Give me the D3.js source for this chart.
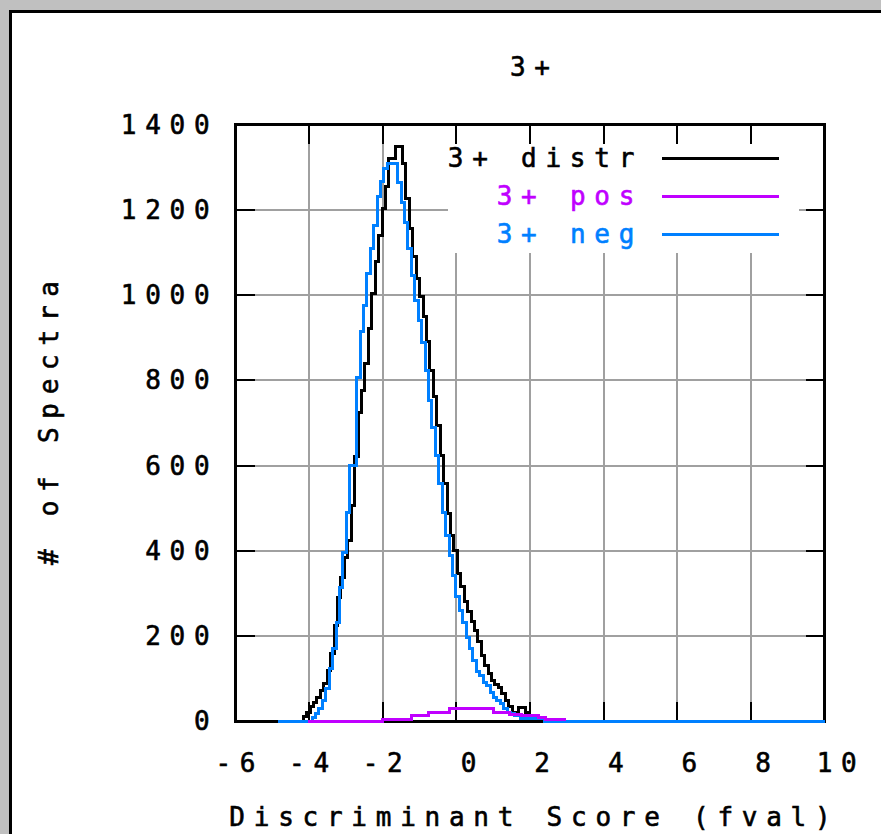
<!DOCTYPE html>
<html>
<head>
<meta charset="utf-8">
<script src="https://cdn.jsdelivr.net/npm/d3@7"></script>
<style>
html, body { margin: 0; padding: 0; background: #c0c0c0; overflow: hidden; }
svg { display: block; }
text { font-family: "DejaVu Sans Mono", monospace; font-size: 26px; white-space: pre; stroke-width: 0.6px; }
</style>
</head>
<body>
<svg id="chart" width="881" height="834"></svg>
<script>
// Histogram of discriminant scores, charge 3+
var binWidth = 0.093;
var distrStart = -4.81;
var negStart = -4.85;

var distrCounts = [0, 0, 0, 0, 0, 0, 0, 12, 22, 36, 45, 57, 73, 90, 120, 160, 225, 290, 338, 385,
    425, 507, 622, 725, 777, 840, 921, 1004, 1079, 1140, 1204, 1255, 1320, 1320, 1348, 1348,
    1309, 1227, 1157, 1090, 1040, 996, 950, 891, 824, 762, 695, 625, 558, 488, 437, 400, 347,
    316, 281, 257, 234, 214, 187, 155, 132, 113, 97, 87, 80, 66, 50, 34, 22, 22, 32, 32, 22, 0];

var negCounts = [0, 0, 0, 0, 0, 0, 0, 0, 0, 0, 8, 19, 31, 50, 78, 125, 172, 233, 315, 397,
    491, 601, 601, 807, 914, 975, 1052, 1110, 1164, 1231, 1267, 1298, 1310, 1310, 1310, 1265,
    1218, 1171, 1110, 1047, 988, 941, 890, 824, 754, 690, 625, 558, 491, 437, 390, 343, 292,
    261, 231, 198, 172, 144, 116, 108, 92, 85, 68, 57, 50, 43, 31, 22, 19, 15, 15,
    7, 7, 7, 7, 7, 7, 7, 0];

// the positive set is coarser, read as explicit step edges
var posEdges = [-4.03, -2.0, -1.23, -0.77, -0.2, 1.0, 1.43, 1.76, 2.22, 2.41, 2.95];
var posCounts = [0, 5, 13, 21, 30, 21, 16, 13, 9, 5];

var xTicks = [-6, -4, -2, 0, 2, 4, 6, 8, 10];
var yTicks = [0, 200, 400, 600, 800, 1000, 1200, 1400];
var seriesNames = ["3+ distr", "3+ pos", "3+ neg"];
var titleText = "3+";
var xTitle = "Discriminant Score (fval)";
var yTitle = "# of Spectra";

var colors = { distr: "#000000", pos: "#c000ff", neg: "#0080ff", grid: "#a0a0a0" };

// monospaced cell layout, like the bitmap font of the original
var CELL = 24.4, FS = 26, ADV = FS * 0.602;

function monoText(parent, str, cellLeft, baseline, color) {
    return parent.append("text")
        .attr("x", cellLeft + (CELL - ADV) / 2)
        .attr("y", baseline)
        .attr("fill", color || "#000")
        .attr("stroke", color || "#000")
        .style("letter-spacing", (CELL - ADV) + "px")
        .text(str);
}

function main() {
    var svg = d3.select("#chart");

    // white panel with black edge
    svg.append("rect").attr("x", 9).attr("y", 10).attr("width", 900).attr("height", 900).attr("fill", "#000");
    svg.append("rect").attr("x", 12).attr("y", 13).attr("width", 900).attr("height", 900).attr("fill", "#fff");

    var x = d3.scaleLinear().domain([-6, 10]).range([235.5, 824.5]);
    var y = d3.scaleLinear().domain([0, 1400]).range([721.4, 124.8]);
    var left = x.range()[0], right = x.range()[1], top = y.range()[1], bottom = y.range()[0];

    var fmt = d3.formatLocale({ decimal: ".", thousands: ",", grouping: [3], currency: ["", ""], minus: "-" }).format(" ");

    // grid
    var grid = svg.append("g").attr("stroke", colors.grid).attr("stroke-width", 2).attr("shape-rendering", "crispEdges");
    grid.selectAll(".gx").data(xTicks.slice(1, -1)).enter().append("line")
        .attr("x1", function (d) { return x(d); }).attr("x2", function (d) { return x(d); })
        .attr("y1", top).attr("y2", bottom);
    grid.selectAll(".gy").data(yTicks.slice(1, -1)).enter().append("line")
        .attr("x1", left).attr("x2", right)
        .attr("y1", function (d) { return y(d); }).attr("y2", function (d) { return y(d); });

    // key area blanks the grid
    svg.append("rect").attr("x", 448).attr("y", top).attr("width", 351).attr("height", 253 - top).attr("fill", "#fff");

    // ticks on all four sides
    var ticks = svg.append("g").attr("stroke", "#000").attr("stroke-width", 2).attr("shape-rendering", "crispEdges");
    var tl = 19;
    xTicks.forEach(function (d) {
        ticks.append("line").attr("x1", x(d)).attr("x2", x(d)).attr("y1", bottom).attr("y2", bottom - tl);
        ticks.append("line").attr("x1", x(d)).attr("x2", x(d)).attr("y1", top).attr("y2", top + tl);
    });
    yTicks.forEach(function (d) {
        ticks.append("line").attr("x1", left).attr("x2", left + tl).attr("y1", y(d)).attr("y2", y(d));
        ticks.append("line").attr("x1", right).attr("x2", right - tl).attr("y1", y(d)).attr("y2", y(d));
    });

    // frame
    svg.append("rect").attr("x", left).attr("y", top).attr("width", right - left).attr("height", bottom - top)
        .attr("fill", "none").attr("stroke", "#000").attr("stroke-width", 3).attr("shape-rendering", "crispEdges");

    // tick labels
    yTicks.forEach(function (d) {
        var s = String(d);
        monoText(svg, s, 214 - s.length * CELL, y(d) + 9);
    });
    xTicks.forEach(function (d) {
        var s = fmt(d);
        monoText(svg, s, x(d) - s.length * CELL / 2, 772);
    });

    // titles
    var cx = (left + right) / 2;
    monoText(svg, titleText, cx - titleText.length * CELL / 2, 76);
    monoText(svg, xTitle, cx - xTitle.length * CELL / 2, 826);
    var yt = svg.append("g").attr("transform", "translate(58," + ((top + bottom) / 2) + ") rotate(-90)");
    monoText(yt, yTitle, -yTitle.length * CELL / 2, 0);

    // step curves
    var line = d3.line().x(function (d) { return x(d[0]); }).y(function (d) { return y(d[1]); }).curve(d3.curveStepAfter);

    function binPoints(start, counts) {
        var pts = counts.map(function (c, i) { return [start + i * binWidth, c]; });
        pts.push([start + counts.length * binWidth, counts[counts.length - 1]]);
        return pts;
    }

    var distrPts = binPoints(distrStart, distrCounts);
    var negPts = binPoints(negStart, negCounts);
    negPts.push([x.domain()[1], 0]);
    var posPts = posCounts.map(function (c, i) { return [posEdges[i], c]; });
    posPts.push([posEdges[posEdges.length - 1], 0]);

    var curves = svg.append("g").attr("fill", "none").attr("stroke-width", 3).attr("shape-rendering", "crispEdges");
    curves.append("path").attr("d", line(distrPts)).attr("stroke", colors.distr);
    curves.append("path").attr("d", line(negPts)).attr("stroke", colors.neg);
    curves.append("path").attr("d", line(posPts)).attr("stroke", colors.pos);

    // key
    var keyColors = [colors.distr, colors.pos, colors.neg];
    var keyY = [158, 196, 234];
    seriesNames.forEach(function (name, i) {
        monoText(svg, name, 638.7 - name.length * CELL, keyY[i] + 9, keyColors[i]);
        svg.append("line").attr("x1", 662).attr("x2", 779).attr("y1", keyY[i]).attr("y2", keyY[i])
            .attr("stroke", keyColors[i]).attr("stroke-width", 3).attr("shape-rendering", "crispEdges");
    });
}

main();
</script>
</body>
</html>
